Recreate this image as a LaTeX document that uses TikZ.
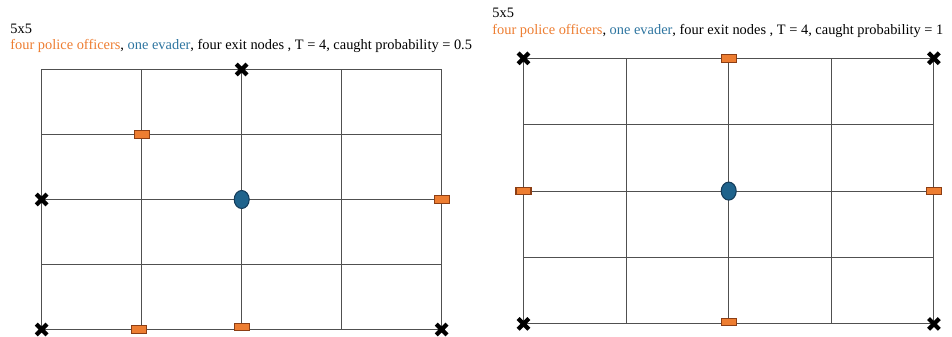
\documentclass[tikz,border=0pt]{standalone}
\usepackage{fontspec}
\setmainfont{Liberation Serif}
\usetikzlibrary{shapes.geometric,shapes.misc}

\definecolor{ofc}{RGB}{237,125,49}
\definecolor{ofcline}{RGB}{140,62,20}
\definecolor{evd}{RGB}{31,99,140}
\definecolor{evdline}{RGB}{20,60,90}
\definecolor{evdtext}{RGB}{46,117,160}
\definecolor{gridgray}{RGB}{80,80,80}

\begin{document}
\begin{tikzpicture}[
    x=0.02cm, y=-0.02cm,
    every node/.style={inner sep=0pt},
    officer/.style={
        draw=ofcline,
        fill=ofc,
        line width=0.6pt,
        minimum width=0.3cm,
        minimum height=0.15cm
    },
    evader/.style={
        ellipse,
        draw=evdline,
        fill=evd,
        line width=0.6pt,
        minimum width=0.3cm,
        minimum height=0.36cm
    },
    exitnode/.style={
        cross out,
        draw=black,
        line width=2.4pt,
        minimum size=0.13cm
    },
    caption/.style={anchor=base west, font=\fontsize{8.2}{10}\selectfont},
    gridline/.style={draw=gridgray, line width=0.55pt}
]
\useasboundingbox (0,0) rectangle (952,337);

% grid points
\foreach \i in {0,...,4} {
    \foreach \j in {0,...,4} {
        \coordinate (L-\i-\j) at ({41.7+100*\i},{69.5+65*\j});
        \coordinate (R-\i-\j) at ({523.5+102.6*\i},{58.3+66.4*\j});
    }
}

% grid lines
\foreach \i in {0,...,4} {
    \draw[gridline] (L-\i-0) -- (L-\i-4);
    \draw[gridline] (L-0-\i) -- (L-4-\i);
    \draw[gridline] (R-\i-0) -- (R-\i-4);
    \draw[gridline] (R-0-\i) -- (R-4-\i);
}

% left graph
\node[caption] (Lsize) at (10,34) {5x5};
\node[caption] (Linfo) at (10,50)
    {{\color{ofc}four police officers}, {\color{evdtext}one evader}, four exit nodes , T = 4, caught probability = 0.5};

\node[exitnode] (Lexit1) at (L-2-0) {};
\node[exitnode] (Lexit2) at (L-0-2) {};
\node[exitnode] (Lexit3) at (L-0-4) {};
\node[exitnode] (Lexit4) at (L-4-4) {};

\node[officer] (Lpol1) at (L-1-1) {};
\node[officer] (Lpol2) at (L-4-2) {};
\node[officer] (Lpol3) at ([xshift=-0.06cm]L-1-4) {};
\node[officer] (Lpol4) at ([yshift=0.05cm]L-2-4) {};

\node[evader] (Levd) at (L-2-2) {};

% right graph
\node[caption] (Rsize) at (492,18) {5x5};
\node[caption] (Rinfo) at (492,35)
    {{\color{ofc}four police officers}, {\color{evdtext}one evader}, four exit nodes , T = 4, caught probability = 1};

\node[exitnode] (Rexit1) at (R-0-0) {};
\node[exitnode] (Rexit2) at (R-4-0) {};
\node[exitnode] (Rexit3) at (R-0-4) {};
\node[exitnode] (Rexit4) at (R-4-4) {};

\node[officer] (Rpol1) at (R-2-0) {};
\node[officer] (Rpol2) at (R-0-2) {};
\node[officer] (Rpol3) at (R-4-2) {};
\node[officer] (Rpol4) at ([yshift=0.04cm]R-2-4) {};

\node[evader] (Revd) at (R-2-2) {};

\end{tikzpicture}
\end{document}
